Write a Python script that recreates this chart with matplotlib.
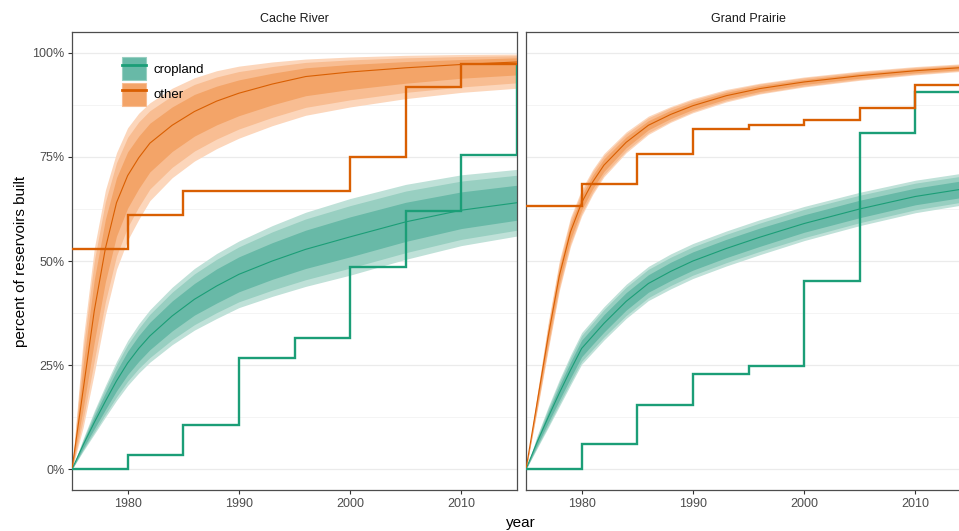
import matplotlib
matplotlib.use("Agg")
import matplotlib.pyplot as plt
from matplotlib.patches import Patch
from matplotlib.lines import Line2D

plt.rcParams['font.family'] = ['Liberation Sans', 'DejaVu Sans']

# ---------------- data ----------------
regions = ["Cache River", "Grand Prairie"]
landuse = ["cropland", "other"]

model_years = [1975, 1976, 1977, 1978, 1979, 1980, 1981, 1982, 1984, 1986, 1988,
               1990, 1993, 1996, 2000, 2005, 2010, 2015]

# Cache River - cropland model (median and 68/90/95 % bands)
cr_crop_med  = [0, .058, .112, .163, .212, .255, .290, .320, .368, .408, .440, .468, .500, .528, .558, .594, .622, .640]
cr_crop_lo95 = [0, .043, .084, .125, .165, .201, .231, .257, .299, .334, .362, .388, .415, .439, .466, .504, .537, .560]
cr_crop_hi95 = [0, .073, .140, .201, .259, .309, .349, .383, .437, .482, .518, .548, .585, .617, .650, .684, .707, .720]
cr_crop_lo90 = [0, .046, .089, .132, .1735, .211, .242, .268, .311, .347, .376, .402, .430, .455, .483, .520, .552, .574]
cr_crop_hi90 = [0, .070, .135, .194, .2505, .299, .338, .372, .425, .469, .504, .534, .570, .601, .633, .668, .692, .706]
cr_crop_lo68 = [0, .050, .097, .143, .188, .227, .259, .287, .332, .370, .399, .426, .456, .482, .510, .547, .578, .598]
cr_crop_hi68 = [0, .066, .127, .183, .236, .283, .321, .353, .404, .446, .481, .510, .544, .574, .606, .641, .666, .682]

# Cache River - other model
cr_oth_med  = [0, .190, .380, .530, .640, .705, .748, .783, .826, .859, .884, .903, .925, .943, .954, .964, .972, .978]
cr_oth_lo95 = [0, .100, .230, .370, .480, .550, .600, .645, .700, .740, .770, .795, .825, .850, .870, .890, .905, .915]
cr_oth_hi95 = [0, .310, .530, .670, .760, .820, .855, .880, .915, .940, .957, .968, .978, .985, .990, .994, .996, .997]
cr_oth_lo90 = [0, .118, .260, .402, .512, .581, .630, .673, .725, .764, .793, .817, .845, .869, .887, .905, .918, .928]
cr_oth_hi90 = [0, .286, .500, .642, .736, .797, .834, .861, .897, .924, .942, .955, .967, .977, .983, .988, .991, .993]
cr_oth_lo68 = [0, .145, .305, .450, .560, .627, .674, .714, .763, .800, .827, .849, .875, .897, .912, .927, .939, .947]
cr_oth_hi68 = [0, .250, .455, .600, .700, .762, .800, .831, .870, .900, .920, .935, .951, .964, .972, .979, .984, .988]

# Grand Prairie - cropland model
gp_crop_med  = [0, .065, .125, .183, .238, .290, .320, .350, .403, .446, .475, .500, .530, .557, .590, .625, .655, .676]
gp_crop_lo95 = [0, .050, .100, .151, .202, .252, .281, .310, .362, .405, .433, .458, .488, .515, .549, .585, .616, .638]
gp_crop_hi95 = [0, .080, .150, .215, .274, .328, .359, .390, .444, .487, .517, .542, .572, .599, .631, .665, .694, .714]
gp_crop_lo90 = [0, .053, .1045, .157, .2085, .259, .288, .317, .369, .412, .441, .466, .496, .523, .556, .592, .623, .645]
gp_crop_hi90 = [0, .077, .1455, .209, .2675, .321, .352, .383, .437, .480, .509, .534, .564, .591, .624, .658, .687, .707]
gp_crop_lo68 = [0, .057, .112, .166, .219, .270, .300, .329, .382, .425, .453, .478, .508, .535, .569, .604, .635, .656]
gp_crop_hi68 = [0, .073, .138, .200, .257, .310, .340, .371, .424, .467, .497, .522, .552, .579, .611, .646, .675, .696]

# Grand Prairie - other model
gp_oth_med  = [0, .160, .320, .465, .570, .640, .690, .730, .785, .826, .852, .873, .897, .914, .930, .945, .957, .966]
gp_oth_lo95 = [0, .140, .287, .429, .535, .608, .660, .702, .760, .804, .833, .856, .882, .901, .918, .934, .947, .957]
gp_oth_hi95 = [0, .180, .353, .501, .605, .672, .720, .758, .810, .848, .871, .890, .912, .927, .942, .956, .967, .975]
gp_oth_lo90 = [0, .144, .293, .4355, .541, .614, .665, .707, .7645, .808, .836, .859, .885, .903, .920, .936, .949, .959]
gp_oth_hi90 = [0, .176, .347, .4945, .599, .666, .715, .753, .8055, .844, .868, .887, .909, .925, .940, .954, .965, .973]
gp_oth_lo68 = [0, .150, .303, .446, .552, .623, .674, .715, .772, .815, .842, .864, .889, .907, .924, .939, .952, .961]
gp_oth_hi68 = [0, .170, .337, .484, .588, .657, .706, .745, .798, .837, .862, .882, .905, .921, .936, .951, .962, .971]

# observed cumulative share built (step functions)
obs_years = [1975, 1980, 1985, 1990, 1995, 2000, 2005, 2010, 2015]
cr_crop_obs = [0, .035, .107, .267, .315, .486, .621, .755, .97]
cr_oth_obs  = [.528, .611, .667, .667, .667, .75, .917, .972, .972]
gp_crop_obs = [0, .060, .155, .228, .248, .451, .807, .907, .907]
gp_oth_obs  = [.631, .684, .756, .816, .827, .838, .867, .923, .923]

x_ticks = [1980, 1990, 2000, 2010]
y_ticks = [0, 0.25, 0.5, 0.75, 1.0]
y_tick_labels = ["0%", "25%", "50%", "75%", "100%"]

# ---------------- styles ----------------
line_col = {"cropland": "#1b9e77", "other": "#d95f02"}
band_col = {
    "cropland": ["#bfe1d8", "#98cfc1", "#68b9a7"],
    "other":    ["#fcd6bb", "#f8bd92", "#f3a468"],
}

series = {
    "Cache River": {
        "cropland": (cr_crop_med, cr_crop_lo95, cr_crop_hi95, cr_crop_lo90, cr_crop_hi90, cr_crop_lo68, cr_crop_hi68, cr_crop_obs),
        "other":    (cr_oth_med, cr_oth_lo95, cr_oth_hi95, cr_oth_lo90, cr_oth_hi90, cr_oth_lo68, cr_oth_hi68, cr_oth_obs),
    },
    "Grand Prairie": {
        "cropland": (gp_crop_med, gp_crop_lo95, gp_crop_hi95, gp_crop_lo90, gp_crop_hi90, gp_crop_lo68, gp_crop_hi68, gp_crop_obs),
        "other":    (gp_oth_med, gp_oth_lo95, gp_oth_hi95, gp_oth_lo90, gp_oth_hi90, gp_oth_lo68, gp_oth_hi68, gp_oth_obs),
    },
}

W, H = 959, 531
fig = plt.figure(figsize=(W / 100, H / 100), dpi=100)
fig.patch.set_facecolor("white")

pw = 445
ax_left = [72, 526]
axes = []
for i, reg in enumerate(regions):
    ax = fig.add_axes([ax_left[i] / W, (H - 490) / H, pw / W, 458 / H])
    axes.append(ax)
    ax.set_xlim(1975, 2015)
    ax.set_ylim(-0.05, 1.05)
    ax.set_yticks(y_ticks)
    ax.set_yticks([0.125, 0.375, 0.625, 0.875], minor=True)
    ax.set_xticks(x_ticks)
    ax.grid(True, axis="y", which="major", color="#ebebeb", lw=0.9, zorder=0)
    ax.grid(True, axis="y", which="minor", color="#f2f2f2", lw=0.6, zorder=0)
    ax.set_axisbelow(True)
    for sp in ax.spines.values():
        sp.set_color("#4d4d4d")
        sp.set_linewidth(0.9)
    ax.tick_params(axis="both", which="major", length=3, width=0.8, color="#333333",
                   labelsize=9, labelcolor="#4d4d4d", pad=2.5)
    ax.tick_params(axis="y", which="minor", length=0)
    if i == 0:
        ax.set_yticklabels(y_tick_labels)
        ax.set_ylabel("percent of reservoirs built", fontsize=11, labelpad=3, color="black")
    else:
        ax.tick_params(axis="y", which="both", left=False, labelleft=False)
    ax.set_title(reg, fontsize=9, color="#1a1a1a", pad=7)

    for lu in landuse:
        med, lo95, hi95, lo90, hi90, lo68, hi68, obs = series[reg][lu]
        c = band_col[lu]
        ax.fill_between(model_years, lo95, hi95, color=c[0], lw=0, zorder=2)
        ax.fill_between(model_years, lo90, hi90, color=c[1], lw=0, zorder=2.1)
        ax.fill_between(model_years, lo68, hi68, color=c[2], lw=0, zorder=2.2)
        ax.plot(model_years, med, color=line_col[lu], lw=0.8, zorder=3)
    for lu in landuse:
        obs = series[reg][lu][7]
        ax.step(obs_years, obs, where="post", color=line_col[lu], lw=1.7, zorder=4,
                solid_joinstyle="miter")

# legend
handles = []
for lu in landuse:
    handles.append((Patch(facecolor=band_col[lu][2], edgecolor=band_col[lu][1], lw=0.8),
                    Line2D([0], [0], color=line_col[lu], lw=2)))
axes[0].legend(handles, landuse, loc="upper left",
               bbox_to_anchor=((122 - 72) / pw, (490 - 57) / 458),
               frameon=False, fontsize=9.5, handlelength=1.85, handleheight=2.3,
               labelspacing=0.2, handletextpad=0.5, borderpad=0, borderaxespad=0)

fig.text(521 / W, (H - 523) / H, "year", fontsize=11, ha="center", va="center", color="black")

fig.savefig("out.png", dpi=100)
